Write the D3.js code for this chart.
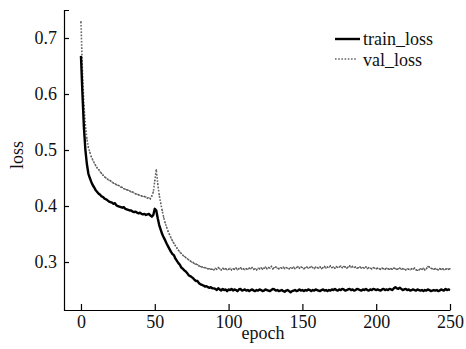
<!DOCTYPE html>
<html>
<head>
<meta charset="utf-8">
<script src="https://cdn.jsdelivr.net/npm/d3@7"></script>
<style>
  body { margin: 0; background: #fff; }
  svg text { font-family: "Liberation Serif", "Times New Roman", Tinos, "DejaVu Serif", serif !important; }
</style>
</head>
<body>
<div id="chart"></div>
<script>
// loss per epoch (epochs 0..250)
const trainLoss = [
  0.668, 0.600, 0.540, 0.500, 0.475, 0.458, 0.450, 0.443, 0.437, 0.433, 0.428,
  0.425, 0.422, 0.420, 0.417, 0.416, 0.413, 0.412, 0.410, 0.408, 0.407,
  0.406, 0.404, 0.405, 0.401, 0.400, 0.399, 0.398, 0.397, 0.398, 0.395,
  0.394, 0.393, 0.392, 0.392, 0.390, 0.389, 0.390, 0.388, 0.387, 0.388,
  0.386, 0.385, 0.386, 0.384, 0.385, 0.386, 0.383, 0.381, 0.384, 0.395,
  0.392, 0.378, 0.366, 0.358, 0.350, 0.344, 0.339, 0.333, 0.328, 0.323,
  0.318, 0.314, 0.312, 0.306, 0.302, 0.298, 0.295, 0.290, 0.288, 0.285,
  0.283, 0.280, 0.276, 0.275, 0.273, 0.271, 0.268, 0.266, 0.266, 0.262,
  0.260, 0.259, 0.258, 0.256, 0.257, 0.255, 0.254, 0.255, 0.253, 0.253,
  0.252, 0.250, 0.253, 0.251, 0.249, 0.252, 0.250, 0.251, 0.248, 0.251,
  0.250, 0.252, 0.249, 0.251, 0.250, 0.248, 0.251, 0.252, 0.249, 0.250,
  0.251, 0.249, 0.250, 0.248, 0.250, 0.251, 0.249, 0.248, 0.250, 0.249,
  0.251, 0.250, 0.248, 0.249, 0.251, 0.250, 0.249, 0.248, 0.250, 0.252,
  0.251, 0.249, 0.250, 0.248, 0.249, 0.250, 0.248, 0.247, 0.249, 0.250,
  0.248, 0.246, 0.248, 0.249, 0.250, 0.248, 0.249, 0.251, 0.249, 0.250,
  0.248, 0.250, 0.249, 0.251, 0.250, 0.248, 0.250, 0.249, 0.251, 0.250,
  0.249, 0.248, 0.250, 0.251, 0.249, 0.250, 0.248, 0.250, 0.249, 0.251,
  0.250, 0.252, 0.250, 0.249, 0.251, 0.250, 0.252, 0.251, 0.249, 0.250,
  0.251, 0.252, 0.250, 0.251, 0.249, 0.250, 0.252, 0.251, 0.250, 0.249,
  0.251, 0.250, 0.252, 0.250, 0.249, 0.251, 0.250, 0.252, 0.251, 0.250,
  0.251, 0.250, 0.249, 0.251, 0.252, 0.250, 0.251, 0.250, 0.252, 0.251,
  0.250, 0.253, 0.255, 0.253, 0.252, 0.254, 0.252, 0.250, 0.251, 0.252,
  0.250, 0.251, 0.249, 0.250, 0.251, 0.250, 0.249, 0.251, 0.250, 0.249,
  0.250, 0.248, 0.250, 0.249, 0.251, 0.250, 0.248, 0.249, 0.250, 0.249,
  0.250, 0.248, 0.249, 0.251, 0.250, 0.249, 0.252, 0.250, 0.251, 0.250
];

const valLoss = [
  0.729, 0.640, 0.580, 0.545, 0.520, 0.505, 0.496, 0.488, 0.482, 0.477, 0.472,
  0.468, 0.465, 0.461, 0.458, 0.455, 0.452, 0.450, 0.448, 0.446, 0.445,
  0.443, 0.441, 0.440, 0.438, 0.437, 0.436, 0.434, 0.433, 0.431, 0.430,
  0.429, 0.428, 0.427, 0.425, 0.425, 0.423, 0.422, 0.421, 0.420, 0.419,
  0.418, 0.417, 0.417, 0.416, 0.414, 0.415, 0.413, 0.418, 0.425, 0.445,
  0.465, 0.440, 0.420, 0.405, 0.392, 0.380, 0.370, 0.362, 0.355, 0.349,
  0.343, 0.338, 0.333, 0.329, 0.325, 0.321, 0.318, 0.315, 0.312, 0.310,
  0.308, 0.306, 0.304, 0.302, 0.300, 0.299, 0.297, 0.296, 0.295, 0.293,
  0.292, 0.291, 0.290, 0.290, 0.289, 0.288, 0.288, 0.287, 0.287, 0.286,
  0.289, 0.287, 0.290, 0.288, 0.286, 0.289, 0.287, 0.288, 0.286, 0.287,
  0.289, 0.286, 0.288, 0.287, 0.289, 0.286, 0.288, 0.290, 0.287, 0.288,
  0.286, 0.288, 0.287, 0.289, 0.288, 0.290, 0.287, 0.288, 0.286, 0.289,
  0.288, 0.290, 0.287, 0.289, 0.291, 0.288, 0.290, 0.289, 0.292, 0.288,
  0.290, 0.291, 0.289, 0.288, 0.290, 0.289, 0.291, 0.288, 0.290, 0.289,
  0.288, 0.290, 0.289, 0.291, 0.288, 0.290, 0.292, 0.289, 0.291, 0.290,
  0.288, 0.290, 0.291, 0.289, 0.290, 0.292, 0.290, 0.288, 0.291, 0.290,
  0.289, 0.291, 0.288, 0.290, 0.292, 0.289, 0.291, 0.290, 0.293, 0.290,
  0.291, 0.289, 0.292, 0.290, 0.291, 0.293, 0.290, 0.292, 0.291, 0.289,
  0.291, 0.293, 0.290, 0.292, 0.290, 0.291, 0.289, 0.290, 0.291, 0.289,
  0.290, 0.289, 0.291, 0.288, 0.290, 0.289, 0.288, 0.290, 0.289, 0.288,
  0.289, 0.288, 0.287, 0.289, 0.288, 0.287, 0.289, 0.288, 0.287, 0.288,
  0.287, 0.289, 0.288, 0.287, 0.288, 0.289, 0.287, 0.288, 0.287, 0.286,
  0.288, 0.287, 0.286, 0.288, 0.287, 0.289, 0.286, 0.285, 0.286, 0.288,
  0.287, 0.289, 0.286, 0.288, 0.292, 0.291, 0.289, 0.288, 0.287, 0.288,
  0.287, 0.286, 0.288, 0.287, 0.288, 0.286, 0.287, 0.288, 0.287, 0.288
];

const xTicks = [0, 50, 100, 150, 200, 250];
const yTicks = [0.3, 0.4, 0.5, 0.6, 0.7];
const seriesNames = ["train_loss", "val_loss"];

const width = 466;
const height = 349;
const serif = "'Liberation Serif', 'Times New Roman', Tinos, 'DejaVu Serif', serif";

const svg = d3.select("#chart")
  .append("svg")
  .attr("width", width)
  .attr("height", height)
  .attr("font-family", serif);

// axis box: left edge sits a little before epoch 0
const x = d3.scaleLinear().domain([-11.5, 250]).range([64, 450]);
const y = d3.scaleLinear().domain([0.2143, 0.75]).range([310, 10]);

// x axis, ticks pointing inward
const xAxis = svg.append("g")
  .attr("transform", "translate(0,310)")
  .call(d3.axisBottom(x).tickValues(xTicks).tickFormat(d3.format("d"))
    .tickSizeInner(-6).tickSizeOuter(0).tickPadding(5));

// y axis, ticks pointing inward
const yAxis = svg.append("g")
  .attr("transform", "translate(64,0)")
  .call(d3.axisLeft(y).tickValues(yTicks).tickFormat(d3.format(".1f"))
    .tickSizeInner(-5).tickSizeOuter(-5).tickPadding(7));

[xAxis, yAxis].forEach(g => {
  g.attr("font-family", serif).attr("font-size", 18);
  g.selectAll("path, line").attr("stroke", "#000").attr("stroke-width", 1.2);
  g.selectAll("text").attr("fill", "#111");
});

// axis titles
svg.append("text")
  .attr("x", 263)
  .attr("y", 339)
  .attr("text-anchor", "middle")
  .attr("font-size", 18)
  .attr("fill", "#111")
  .text("epoch");

svg.append("text")
  .attr("transform", "translate(23,155) rotate(-90)")
  .attr("text-anchor", "middle")
  .attr("font-size", 18)
  .attr("fill", "#111")
  .text("loss");

const line = d3.line()
  .x((d, i) => x(i))
  .y(d => y(d));

// val_loss: dotted grey markers
svg.append("path")
  .datum(valLoss)
  .attr("d", line)
  .attr("fill", "none")
  .attr("stroke", "#666")
  .attr("stroke-width", 1.6)
  .attr("stroke-dasharray", "1.6,1.6");

svg.append("g")
  .selectAll("circle")
  .data(valLoss)
  .join("circle")
  .attr("cx", (d, i) => x(i))
  .attr("cy", d => y(d))
  .attr("r", 0.7)
  .attr("fill", "#555");

// train_loss: thick black line
svg.append("path")
  .datum(trainLoss)
  .attr("d", line)
  .attr("fill", "none")
  .attr("stroke", "#000")
  .attr("stroke-width", 2.4)
  .attr("stroke-linejoin", "round");

// legend
const legend = svg.append("g");
legend.append("line")
  .attr("x1", 335).attr("x2", 360)
  .attr("y1", 39).attr("y2", 39)
  .attr("stroke", "#000")
  .attr("stroke-width", 2.4);
legend.append("line")
  .attr("x1", 335).attr("x2", 357)
  .attr("y1", 59).attr("y2", 59)
  .attr("stroke", "#666")
  .attr("stroke-width", 1.6)
  .attr("stroke-dasharray", "1.6,1.6");

legend.selectAll("text")
  .data(seriesNames)
  .join("text")
  .attr("x", 363)
  .attr("y", (d, i) => 45 + i * 21)
  .attr("font-size", 18)
  .attr("fill", "#111")
  .text(d => d);
</script>
</body>
</html>
